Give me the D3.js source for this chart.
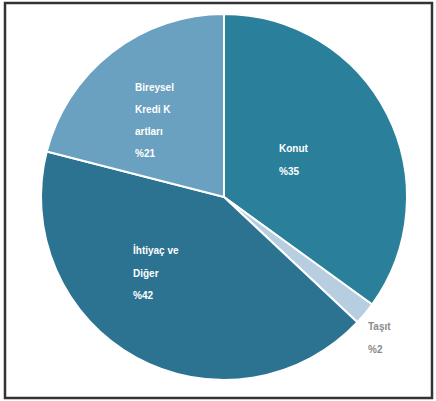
<!DOCTYPE html>
<html>
<head>
<meta charset="utf-8">
<script src="https://cdn.jsdelivr.net/npm/d3@7"></script>
<style>
html,body{margin:0;padding:0;background:#fff;}
svg{display:block;}
</style>
</head>
<body>
<svg id="c" width="436" height="401"></svg>
<script>
const categories = ["Konut", "Taşıt", "İhtiyaç ve Diğer", "Bireysel Kredi Kartları"];
const values = [35, 2, 42, 21];
const labelLines = [["Konut", "%35"], ["Taşıt", "%2"], ["İhtiyaç ve", "Diğer", "%42"], ["Bireysel", "Kredi K", "artları", "%21"]];
const colors = ["#2a7f9b", "#b7cde0", "#2c7392", "#6aa1c0"];

const svg = d3.select("#c");
svg.append("rect").attr("x", 5).attr("y", 3).attr("width", 427).attr("height", 395)
  .attr("fill", "#fff").attr("stroke", "#333").attr("stroke-width", 2.5);

const cx = 224, cy = 197, r = 183;
const data = categories.map((c, i) => ({c, v: values[i], lines: labelLines[i], col: colors[i]}));
const pie = d3.pie().value(d => d.v).sort(null);
const arcs = pie(data);
const arc = d3.arc().innerRadius(0).outerRadius(r);
const g = svg.append("g").attr("transform", `translate(${cx},${cy})`);
g.selectAll("path").data(arcs).enter().append("path")
  .attr("d", arc).attr("fill", d => d.data.col)
  .attr("stroke", "#fff").attr("stroke-width", 2);

// label placement (style): top-left x, first baseline y, line height, colour
const labelStyle = [
  {x: 279, y: 152, lh: 23, col: "#fff", w: "bold"},
  {x: 368, y: 330, lh: 23, col: "#8a8a8a", w: "bold"},
  {x: 133, y: 254, lh: 22.5, col: "#fff", w: "bold"},
  {x: 135, y: 91, lh: 22, col: "#fff", w: "bold"}
];
arcs.forEach((d, i) => {
  const p = labelStyle[i];
  const t = svg.append("text").attr("font-family", "Liberation Sans, Arial, sans-serif")
    .attr("font-size", 10).attr("font-weight", p.w).attr("fill", p.col);
  d.data.lines.forEach((ln, k) => {
    t.append("tspan").attr("x", p.x).attr("y", p.y + k * p.lh).text(ln);
  });
});
</script>
</body>
</html>
